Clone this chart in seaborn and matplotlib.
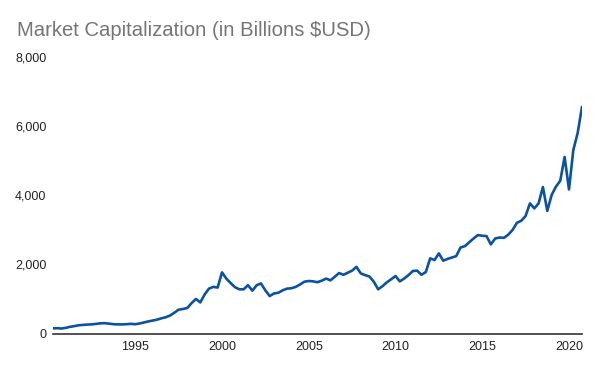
import matplotlib
matplotlib.use("Agg")
import matplotlib.pyplot as plt
import matplotlib.dates as mdates
import matplotlib.ticker as mticker
import pandas as pd
import seaborn as sns

# Quarterly market cap, billions USD
dates = pd.date_range("1990-04-01", periods=123, freq="QS")
market_cap = [
    150, 155, 145,
    165, 195, 215, 240,
    250, 260, 265, 280,
    295, 300, 285, 270,
    265, 265, 270, 280,
    270, 290, 320, 350,
    375, 400, 440, 470,
    520, 600, 690, 710,
    740, 880, 1000, 900,
    1130, 1300, 1350, 1330,
    1770, 1590, 1460, 1340,
    1280, 1280, 1400, 1240,
    1400, 1450, 1250, 1085,
    1160, 1180, 1250, 1300,
    1310, 1350, 1420, 1500,
    1520, 1510, 1485, 1530,
    1590, 1540, 1640, 1750,
    1700, 1760, 1820, 1930,
    1740, 1690, 1650, 1500,
    1280, 1370, 1480, 1570,
    1664, 1510, 1590, 1690,
    1810, 1820, 1700, 1780,
    2176, 2127, 2320, 2107,
    2160, 2200, 2240, 2490,
    2530, 2640, 2750, 2850,
    2830, 2820, 2580, 2750,
    2780, 2770, 2860, 3000,
    3206, 3264, 3400, 3767,
    3622, 3767, 4240, 3550,
    4010, 4250, 4420, 5110,
    4170, 5310, 5800, 6560,
]
y_ticks = [0, 2000, 4000, 6000, 8000]

df = pd.DataFrame({"date": dates, "cap": market_cap})

sns.set_style("white")
plt.rcParams["font.family"] = ["Liberation Sans", "DejaVu Sans"]

fig = plt.figure(figsize=(6, 3.71), dpi=100)
ax = fig.add_axes([0.088, 0.101, 0.882, 0.745])

sns.lineplot(data=df, x="date", y="cap", ax=ax, color="#0b53a0", linewidth=1.9)

ax.set_xlim(dates[0], dates[-1])
ax.set_ylim(0, 8000)
ax.set_yticks(y_ticks)
ax.yaxis.set_major_formatter(mticker.FuncFormatter(lambda v, p: f"{int(v):,}"))
ax.xaxis.set_major_locator(mdates.YearLocator(5))
ax.xaxis.set_major_formatter(mdates.DateFormatter("%Y"))
ax.set_xlabel("")
ax.set_ylabel("")
ax.tick_params(axis="both", length=0, labelsize=9, colors="#222222")
ax.tick_params(axis="y", pad=4.5)
ax.tick_params(axis="x", pad=5.5)
ax.grid(False)

for side in ["top", "right", "left"]:
    ax.spines[side].set_visible(False)
ax.spines["bottom"].set_color("#333333")
ax.spines["bottom"].set_linewidth(1.2)

fig.text(0.028, 0.919, "Market Capitalization (in Billions $USD)",
         fontsize=14.6, color="#757575", va="center", ha="left")

fig.savefig("out.png", dpi=100)
